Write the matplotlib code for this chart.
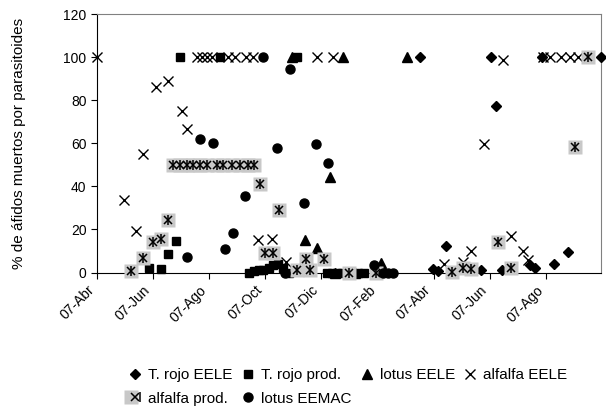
import numpy as np
import matplotlib
matplotlib.use("Agg")
import matplotlib.pyplot as plt
from matplotlib.legend_handler import HandlerTuple

plt.rcParams['font.family'] = ['Liberation Sans', 'DejaVu Sans']

# x = days since 07-Abr (first year), y = % aphids killed by parasitoids
tick_days = [0, 61, 122, 183, 244, 306, 366, 427, 488]
tick_labels = ["07-Abr", "07-Jun", "07-Ago", "07-Oct", "07-Dic", "07-Feb",
               "07-Abr", "07-Jun", "07-Ago"]

trojo_eele_d = [351, 365, 371, 379, 418, 428, 434, 440, 471, 476, 484, 497, 512, 548]
trojo_eele_v = [100, 1.6, 0.7, 12.4, 1.2, 100, 77.3, 1.2, 3.5, 1.9, 100, 4, 9.4, 100]

trojo_prod_d = [56, 70, 77, 86, 90, 134, 165, 171, 176, 181, 187, 191, 197, 202,
                209, 217, 250, 255, 261, 266, 284, 290]
trojo_prod_v = [2.2, 1.5, 8.4, 14.8, 100, 100, 0, 0.5, 1, 1, 2, 3.5, 4, 2,
                0, 100, 0, 0, 0, 0, 0, 0]

lotus_eele_d = [212, 226, 239, 253, 259, 268, 280, 309, 337]
lotus_eele_v = [100, 15, 11.2, 44.5, 0, 100, 0, 4.5, 100]

alf_eele_d = [0, 29, 42, 50, 64, 77, 92, 98, 109, 114, 120, 125, 142, 150, 162,
              170, 175, 190, 206, 239, 257, 377, 398, 407, 421, 441, 450, 463,
              469, 485, 493, 505, 514, 523]
alf_eele_v = [100, 33.6, 19.3, 55, 86, 88.7, 75, 66.6, 100, 100, 100, 100, 100,
              100, 100, 100, 15, 15.5, 4.7, 100, 100, 3.8, 4.7, 10, 59.6, 98.5,
              17, 10, 5.8, 100, 100, 100, 100, 100]

alf_prod_d = [37, 50, 61, 70, 77, 83, 90, 98, 104, 112, 120, 130, 137, 147, 155,
              164, 171, 177, 183, 191, 198, 217, 227, 232, 247, 274, 303, 386,
              398, 407, 436, 450, 520, 534]
alf_prod_v = [0.8, 6.8, 14.3, 15.6, 24.4, 50, 50, 50, 50, 50, 50, 50, 50, 50, 50,
              50, 50, 41, 9.2, 9.2, 29, 1, 6.3, 1, 6.3, 0, 0, 0.4, 2.2, 1.6,
              14, 1.9, 58.4, 100]

lotus_eemac_d = [98, 112, 126, 139, 148, 161, 181, 196, 204, 210, 225, 238, 251,
                 301, 311, 316, 322]
lotus_eemac_v = [7.1, 62.1, 60, 10.8, 18.5, 35.5, 100, 57.7, 0, 94.3, 32.1, 59.5,
                 50.7, 3.5, 0, 0, 0]

fig = plt.figure(figsize=(6.06, 4.13), dpi=100)
ax = fig.add_axes([97/606, 1 - 272.5/413, 504/606, 258.5/413])

kw = dict(linestyle='none', color='black', clip_on=False)
h1, = ax.plot(trojo_eele_d, trojo_eele_v, marker='D', markersize=5.5, zorder=3, **kw)
h2, = ax.plot(trojo_prod_d, trojo_prod_v, marker='s', markersize=6, zorder=4, **kw)
h3, = ax.plot(lotus_eele_d, lotus_eele_v, marker='^', markersize=7, zorder=5, **kw)
h4, = ax.plot(alf_eele_d, alf_eele_v, marker='x', markersize=7, mew=1.0, zorder=6, **kw)
h5a, = ax.plot(alf_prod_d, alf_prod_v, marker='s', markersize=9.5, linestyle='none',
               color='#c8c8c8', mec='none', clip_on=False, zorder=7)
h5b, = ax.plot(alf_prod_d, alf_prod_v, marker='x', markersize=6, mew=1.1, zorder=8, **kw)
h5c, = ax.plot(alf_prod_d, alf_prod_v, marker='|', markersize=6.5, mew=1.1, zorder=8, **kw)
h6, = ax.plot(lotus_eemac_d, lotus_eemac_v, marker='o', markersize=6.5, zorder=9, **kw)

ax.set_xlim(0, 548)
ax.set_ylim(0, 120)
ax.set_yticks(range(0, 121, 20))
ax.set_xticks(tick_days)
ax.set_xticklabels(tick_labels, rotation=45, ha='right')
ax.tick_params(axis='both', labelsize=10, direction='out', length=4, width=0.8)
ax.set_ylabel("% de áfidos muertos por parasitoides", fontsize=11, labelpad=27)

for s in ['top', 'right']:
    ax.spines[s].set_color('#808080')
ax.spines['left'].set_color('black')
ax.spines['bottom'].set_color('black')

# legend order so rows read left to right like the original
handles = [h1, (h5a, h5b, h5c), h2, h6, h3, h4]
labels = ["T. rojo EELE", "alfalfa prod.", "T. rojo prod.", "lotus EEMAC",
          "lotus EELE", "alfalfa EELE"]
fig.legend(handles, labels, loc='center', bbox_to_anchor=(0.574, 0.063), ncol=4,
           frameon=False, fontsize=11, handlelength=0.9, handletextpad=0.4,
           columnspacing=0.55, labelspacing=0.6,
           handler_map={tuple: HandlerTuple(ndivide=None, pad=0)})

fig.savefig("out.png", dpi=100)
